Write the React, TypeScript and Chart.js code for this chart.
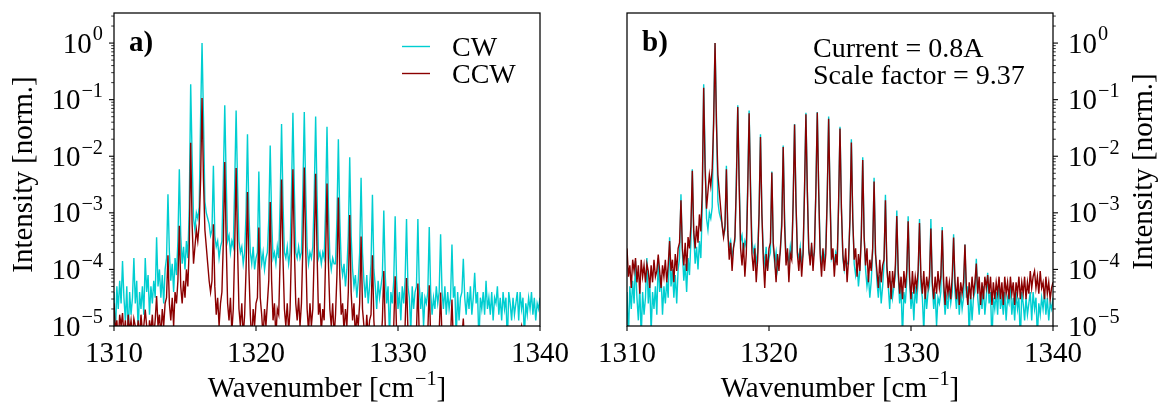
import React, { useEffect, useRef } from 'react';
import { Chart, registerables } from 'chart.js';

Chart.register(...registerables);

// ---------------- DATA ----------------
// Sampled wavenumbers [cm^-1]
const wavenumbers = [
  1310.0, 1310.1, 1310.2, 1310.3, 1310.4, 1310.5, 1310.6, 1310.7,
  1310.8, 1310.9, 1311.0, 1311.1, 1311.2, 1311.3, 1311.4, 1311.5,
  1311.6, 1311.7, 1311.8, 1311.9, 1312.0, 1312.1, 1312.2, 1312.3,
  1312.4, 1312.5, 1312.6, 1312.7, 1312.8, 1312.9, 1313.0, 1313.1,
  1313.2, 1313.3, 1313.4, 1313.5, 1313.6, 1313.7, 1313.8, 1313.9,
  1314.0, 1314.1, 1314.2, 1314.3, 1314.4, 1314.5, 1314.6, 1314.7,
  1314.8, 1314.9, 1315.0, 1315.1, 1315.2, 1315.3, 1315.4, 1315.5,
  1315.6, 1315.7, 1315.8, 1315.9, 1316.0, 1316.1, 1316.2, 1316.3,
  1316.4, 1316.5, 1316.6, 1316.7, 1316.8, 1316.9, 1317.0, 1317.1,
  1317.2, 1317.3, 1317.4, 1317.5, 1317.6, 1317.7, 1317.8, 1317.9,
  1318.0, 1318.1, 1318.2, 1318.3, 1318.4, 1318.5, 1318.6, 1318.7,
  1318.8, 1318.9, 1319.0, 1319.1, 1319.2, 1319.3, 1319.4, 1319.5,
  1319.6, 1319.7, 1319.8, 1319.9, 1320.0, 1320.1, 1320.2, 1320.3,
  1320.4, 1320.5, 1320.6, 1320.7, 1320.8, 1320.9, 1321.0, 1321.1,
  1321.2, 1321.3, 1321.4, 1321.5, 1321.6, 1321.7, 1321.8, 1321.9,
  1322.0, 1322.1, 1322.2, 1322.3, 1322.4, 1322.5, 1322.6, 1322.7,
  1322.8, 1322.9, 1323.0, 1323.1, 1323.2, 1323.3, 1323.4, 1323.5,
  1323.6, 1323.7, 1323.8, 1323.9, 1324.0, 1324.1, 1324.2, 1324.3,
  1324.4, 1324.5, 1324.6, 1324.7, 1324.8, 1324.9, 1325.0, 1325.1,
  1325.2, 1325.3, 1325.4, 1325.5, 1325.6, 1325.7, 1325.8, 1325.9,
  1326.0, 1326.1, 1326.2, 1326.3, 1326.4, 1326.5, 1326.6, 1326.7,
  1326.8, 1326.9, 1327.0, 1327.1, 1327.2, 1327.3, 1327.4, 1327.5,
  1327.6, 1327.7, 1327.8, 1327.9, 1328.0, 1328.1, 1328.2, 1328.3,
  1328.4, 1328.5, 1328.6, 1328.7, 1328.8, 1328.9, 1329.0, 1329.1,
  1329.2, 1329.3, 1329.4, 1329.5, 1329.6, 1329.7, 1329.8, 1329.9,
  1330.0, 1330.1, 1330.2, 1330.3, 1330.4, 1330.5, 1330.6, 1330.7,
  1330.8, 1330.9, 1331.0, 1331.1, 1331.2, 1331.3, 1331.4, 1331.5,
  1331.6, 1331.7, 1331.8, 1331.9, 1332.0, 1332.1, 1332.2, 1332.3,
  1332.4, 1332.5, 1332.6, 1332.7, 1332.8, 1332.9, 1333.0, 1333.1,
  1333.2, 1333.3, 1333.4, 1333.5, 1333.6, 1333.7, 1333.8, 1333.9,
  1334.0, 1334.1, 1334.2, 1334.3, 1334.4, 1334.5, 1334.6, 1334.7,
  1334.8, 1334.9, 1335.0, 1335.1, 1335.2, 1335.3, 1335.4, 1335.5,
  1335.6, 1335.7, 1335.8, 1335.9, 1336.0, 1336.1, 1336.2, 1336.3,
  1336.4, 1336.5, 1336.6, 1336.7, 1336.8, 1336.9, 1337.0, 1337.1,
  1337.2, 1337.3, 1337.4, 1337.5, 1337.6, 1337.7, 1337.8, 1337.9,
  1338.0, 1338.1, 1338.2, 1338.3, 1338.4, 1338.5, 1338.6, 1338.7,
  1338.8, 1338.9, 1339.0, 1339.1, 1339.2, 1339.3, 1339.4, 1339.5,
  1339.6, 1339.7, 1339.8, 1339.9, 1340.0,
];

// CW intensity, log10 of normalized intensity
const cwLog10 = [
  -4.4, -5.2, -4.3, -4.7, -4.2, -4.6, -3.85, -4.5,
  -4.9, -4.3, -5.2, -4.4, -4.8, -4.5, -3.8, -4.6,
  -4.2, -5.1, -4.4, -4.7, -4.3, -4.8, -3.8, -4.4,
  -4.1, -4.8, -4.3, -4.6, -4.2, -4.5, -3.43, -4.3,
  -4.0, -4.5, -4.1, -4.6, -4.0, -3.8, -2.67, -3.7,
  -4.2, -3.9, -4.4, -3.8, -4.1, -3.5, -2.23, -3.4,
  -3.9, -3.6, -4.0, -3.5, -3.8, -2.9, -0.73, -2.0,
  -3.1, -3.3, -3.0, -3.1, -2.9, -1.3, 0.0, -1.3,
  -2.8, -3.0, -3.1, -3.2, -3.4, -3.3, -2.17, -3.4,
  -3.6, -3.5, -3.8, -3.6, -3.5, -2.4, -1.10, -2.4,
  -3.5, -3.4, -3.7, -3.5, -3.6, -2.5, -1.19, -2.5,
  -3.5, -3.7, -3.6, -3.9, -3.7, -3.0, -1.61, -3.0,
  -3.7, -3.9, -3.6, -4.0, -3.8, -3.7, -2.27, -3.6,
  -3.9, -3.7, -4.0, -3.8, -3.7, -3.1, -1.81, -3.1,
  -3.8, -3.7, -3.9, -3.6, -3.8, -2.8, -1.43, -2.8,
  -3.7, -3.8, -3.6, -3.9, -3.7, -2.6, -1.23, -2.6,
  -3.7, -3.8, -3.6, -3.8, -3.7, -2.6, -1.22, -2.6,
  -3.6, -3.9, -3.7, -3.8, -3.6, -2.7, -1.30, -2.7,
  -3.8, -3.7, -3.9, -3.7, -3.8, -2.9, -1.48, -2.9,
  -3.8, -4.0, -3.8, -3.9, -3.9, -3.1, -1.70, -3.1,
  -3.9, -4.1, -3.9, -4.3, -4.0, -3.4, -2.02, -3.4,
  -4.0, -4.3, -4.1, -4.5, -4.2, -3.7, -2.38, -3.7,
  -4.2, -4.5, -4.1, -4.6, -4.3, -3.9, -2.68, -4.0,
  -4.3, -4.7, -4.2, -4.5, -4.3, -4.1, -2.96, -4.1,
  -4.6, -4.3, -5.2, -4.4, -4.6, -4.2, -3.06, -4.2,
  -4.7, -4.4, -4.9, -4.3, -4.6, -4.2, -3.11, -4.3,
  -4.5, -5.1, -4.3, -4.7, -4.4, -4.3, -3.11, -4.3,
  -4.7, -4.4, -5.0, -4.5, -4.6, -4.4, -3.25, -4.4,
  -4.8, -4.5, -4.7, -4.3, -4.6, -4.4, -3.38, -4.4,
  -4.7, -4.3, -4.8, -4.4, -4.7, -4.5, -3.56, -4.5,
  -4.3, -5.2, -4.4, -4.9, -4.5, -4.4, -3.81, -4.5,
  -4.8, -4.4, -4.7, -4.3, -4.8, -4.5, -4.06, -4.6,
  -4.4, -5.3, -4.5, -4.7, -4.4, -4.8, -4.2, -4.7,
  -4.5, -4.8, -4.4, -4.9, -4.5, -4.6, -4.3, -4.8,
  -4.5, -4.9, -4.4, -4.7, -4.5, -5.3, -4.4, -4.6,
  -4.9, -4.5, -4.8, -4.6, -4.4, -4.9, -4.4, -4.7,
  -4.5, -5.2, -4.6, -4.8, -4.5, -4.7, -4.4, -4.8,
  -4.5, -4.9, -4.6, -4.7, -4.5,
];

// CCW intensity (unscaled, as in panel a), log10 of normalized intensity
const ccwLog10 = [
  -4.6, -5.1, -4.9, -5.3, -4.8, -5.0, -4.77, -5.2,
  -4.9, -5.4, -4.8, -5.1, -4.9, -5.2, -4.87, -5.0,
  -5.3, -4.9, -5.2, -4.8, -5.1, -5.0, -4.71, -5.0,
  -5.3, -4.9, -5.1, -4.8, -5.2, -4.9, -4.47, -5.0,
  -4.8, -5.2, -4.7, -5.0, -4.6, -4.5, -3.75, -4.6,
  -4.9, -4.5, -5.0, -4.4, -4.6, -4.2, -3.23, -4.3,
  -4.6, -4.2, -4.5, -4.0, -4.3, -3.6, -1.76, -3.2,
  -3.9, -3.6, -3.3, -3.5, -3.2, -2.4, -0.97, -2.4,
  -3.3, -3.6, -3.9, -4.2, -4.4, -4.2, -3.20, -4.3,
  -4.8, -4.5, -5.0, -4.6, -4.4, -3.5, -2.10, -3.5,
  -4.6, -4.9, -4.5, -5.1, -4.7, -3.6, -2.21, -3.6,
  -4.7, -5.0, -4.6, -5.2, -4.8, -4.0, -2.63, -4.0,
  -4.8, -5.3, -4.7, -5.0, -4.6, -4.5, -3.26, -4.5,
  -4.8, -5.2, -4.7, -5.0, -4.6, -4.2, -2.81, -4.2,
  -4.9, -4.6, -5.2, -4.7, -4.8, -3.8, -2.41, -3.8,
  -4.7, -5.0, -4.6, -5.1, -4.7, -3.6, -2.23, -3.6,
  -4.6, -4.9, -4.5, -5.0, -4.6, -3.6, -2.20, -3.6,
  -4.7, -5.1, -4.6, -5.0, -4.7, -3.7, -2.31, -3.7,
  -4.8, -4.6, -5.1, -4.7, -4.9, -3.8, -2.48, -3.9,
  -4.7, -5.0, -4.6, -5.2, -4.8, -4.1, -2.73, -4.1,
  -4.8, -4.6, -5.1, -4.7, -5.0, -4.4, -3.04, -4.4,
  -4.9, -4.6, -5.2, -4.8, -5.0, -4.6, -3.42, -4.7,
  -5.0, -5.3, -4.8, -5.2, -4.9, -4.8, -3.75, -4.9,
  -5.3, -5.0, -5.5, -5.0, -5.3, -4.9, -4.03, -5.0,
  -5.4, -5.1, -5.5, -5.0, -5.3, -5.0, -4.12, -5.1,
  -5.5, -5.0, -5.4, -5.1, -5.3, -5.0, -4.15, -5.1,
  -5.4, -5.0, -5.5, -5.1, -5.3, -5.1, -4.25, -5.2,
  -5.5, -5.1, -5.4, -5.0, -5.3, -5.1, -4.28, -5.2,
  -5.6, -5.1, -5.4, -5.2, -5.5, -5.1, -4.41, -5.2,
  -5.5, -5.1, -5.6, -5.2, -5.4, -5.2, -4.53, -5.3,
  -5.6, -5.2, -5.5, -5.1, -5.4, -5.2, -4.87, -5.4,
  -5.1, -5.6, -5.2, -5.5, -5.1, -5.3, -5.07, -5.4,
  -5.1, -5.6, -5.2, -5.5, -5.2, -5.4, -5.1, -5.5,
  -5.2, -5.6, -5.1, -5.4, -5.2, -5.5, -5.1, -5.4,
  -5.2, -5.6, -5.2, -5.4, -5.1, -5.5, -5.2, -5.4,
  -5.1, -5.5, -5.2, -5.4, -5.0, -5.3, -5.1, -5.0,
  -5.3, -5.1, -5.4, -5.0, -5.3, -5.2, -5.5, -5.1,
  -5.4, -5.2, -5.5, -5.3, -5.2,
];

const SCALE_FACTOR = 9.37;
const CURRENT_A = 0.8;
const seriesLabels = ['CW', 'CCW'];
const xTickValues = [1310, 1320, 1330, 1340];
const yDecadeExponents = [-5, -4, -3, -2, -1, 0];

const X_MIN = 1310;
const X_MAX = 1340;
const Y_MIN = 1e-5;
const Y_MAX = 3.4;

// ---------------- STYLE ----------------
const CYAN = '#00CED1';
const DARKRED = '#8B0000';
const FONT_FAMILY = '"Liberation Serif", "Times New Roman", serif';
const FS = 29;
const LINE_W = 1.4;

type Part = { t: string; sup?: boolean };

function setFont(ctx: CanvasRenderingContext2D, size: number, bold = false) {
  ctx.font = `${bold ? 'bold ' : ''}${size}px ${FONT_FAMILY}`;
}

function partsWidth(ctx: CanvasRenderingContext2D, parts: Part[], size: number) {
  let w = 0;
  for (const p of parts) {
    setFont(ctx, p.sup ? size * 0.7 : size);
    w += ctx.measureText(p.t).width + (p.sup ? 1 : 0);
  }
  return w;
}

function drawParts(
  ctx: CanvasRenderingContext2D,
  parts: Part[],
  x: number,
  y: number,
  align: 'left' | 'right' | 'center',
  size: number,
) {
  const total = partsWidth(ctx, parts, size);
  let cx = align === 'right' ? x - total : align === 'center' ? x - total / 2 : x;
  ctx.textAlign = 'left';
  ctx.textBaseline = 'alphabetic';
  for (const p of parts) {
    if (p.sup) {
      setFont(ctx, size * 0.7);
      ctx.fillText(p.t, cx + 1, y - size * 0.42);
      cx += ctx.measureText(p.t).width + 1;
    } else {
      setFont(ctx, size);
      ctx.fillText(p.t, cx, y);
      cx += ctx.measureText(p.t).width;
    }
  }
}

function expLabel(e: number): Part[] {
  return [{ t: '10' }, { t: e < 0 ? `\u2212${-e}` : `${e}`, sup: true }];
}

function makeDecorPlugin(panel: 'a' | 'b', canvasLeft: number) {
  return {
    id: 'decor' + panel,
    afterDraw(chart: any) {
      const ctx: CanvasRenderingContext2D = chart.ctx;
      const { left, right, top, bottom } = chart.chartArea;
      const xs = chart.scales.x;
      const ys = chart.scales.y;
      ctx.save();
      ctx.fillStyle = '#000';
      ctx.strokeStyle = '#000';

      // frame
      ctx.lineWidth = 1.25;
      ctx.strokeRect(left, top, right - left, bottom - top);

      // x ticks and labels
      ctx.lineWidth = 1.1;
      for (const v of xTickValues) {
        const px = xs.getPixelForValue(v);
        ctx.beginPath();
        ctx.moveTo(px, bottom);
        ctx.lineTo(px, bottom + 5);
        ctx.stroke();
        drawParts(ctx, [{ t: String(v) }], px, bottom + 36, 'center', FS);
      }
      drawParts(
        ctx,
        [{ t: 'Wavenumber [cm' }, { t: '\u22121', sup: true }, { t: ']' }],
        (left + right) / 2,
        397,
        'center',
        FS,
      );

      // y ticks (log, major + minor) and labels
      const side = panel === 'a' ? left : right;
      const dir = panel === 'a' ? -1 : 1;
      for (const e of yDecadeExponents) {
        for (let m = 1; m <= 9; m++) {
          const v = m * Math.pow(10, e);
          if (v > Y_MAX) break;
          const py = ys.getPixelForValue(v);
          const len = m === 1 ? 5 : 2.8;
          ctx.lineWidth = m === 1 ? 1.1 : 0.8;
          ctx.beginPath();
          ctx.moveTo(side, py);
          ctx.lineTo(side + dir * len, py);
          ctx.stroke();
        }
        const py = ys.getPixelForValue(Math.pow(10, e));
        if (panel === 'a') {
          drawParts(ctx, expLabel(e), left - 11, py + 9.5, 'right', FS);
        } else {
          drawParts(ctx, expLabel(e), right + 15, py + 9.5, 'left', FS);
        }
      }

      // y title (reads bottom to top on both panels)
      const titleX = panel === 'a' ? 32 : 1152 - canvasLeft;
      const titleY = (top + bottom) / 2 + (panel === 'a' ? 5 : 2);
      ctx.save();
      ctx.translate(titleX, titleY);
      ctx.rotate(-Math.PI / 2);
      setFont(ctx, FS);
      ctx.textAlign = 'center';
      ctx.textBaseline = 'alphabetic';
      ctx.fillText('Intensity [norm.]', 0, 0);
      ctx.restore();

      // panel letter
      setFont(ctx, FS, true);
      ctx.textAlign = 'left';
      ctx.textBaseline = 'alphabetic';
      ctx.fillText(panel + ')', left + 15, 51);

      if (panel === 'a') {
        // legend
        const items = [
          { label: seriesLabels[0], color: CYAN, y: 46.5, ty: 56 },
          { label: seriesLabels[1], color: DARKRED, y: 73.5, ty: 83 },
        ];
        for (const it of items) {
          ctx.strokeStyle = it.color;
          ctx.lineWidth = LINE_W;
          ctx.beginPath();
          ctx.moveTo(402 - canvasLeft, it.y);
          ctx.lineTo(430 - canvasLeft, it.y);
          ctx.stroke();
          setFont(ctx, 28);
          ctx.fillStyle = '#000';
          ctx.fillText(it.label, 452 - canvasLeft, it.ty);
        }
      } else {
        setFont(ctx, 28);
        ctx.fillText(`Current = ${CURRENT_A}A`, 813 - canvasLeft, 56.5);
        ctx.fillText(`Scale factor = ${SCALE_FACTOR}`, 813 - canvasLeft, 84);
      }
      ctx.restore();
    },
  };
}

function buildConfig(panel: 'a' | 'b', canvasLeft: number, padding: any): any {
  const ccwFactor = panel === 'b' ? SCALE_FACTOR : 1;
  const cwData = wavenumbers.map((x, i) => ({ x, y: Math.pow(10, cwLog10[i]) }));
  const ccwData = wavenumbers.map((x, i) => ({ x, y: Math.pow(10, ccwLog10[i]) * ccwFactor }));
  return {
    type: 'line',
    data: {
      datasets: [
        {
          label: seriesLabels[1],
          data: ccwData,
          borderColor: DARKRED,
          borderWidth: LINE_W,
          pointRadius: 0,
          tension: 0,
          fill: false,
          order: 0,
        },
        {
          label: seriesLabels[0],
          data: cwData,
          borderColor: CYAN,
          borderWidth: LINE_W,
          pointRadius: 0,
          tension: 0,
          fill: false,
          order: 1,
        },
      ],
    },
    options: {
      animation: false,
      responsive: false,
      maintainAspectRatio: false,
      events: [],
      layout: { padding },
      plugins: {
        legend: { display: false },
        tooltip: { enabled: false },
        title: { display: false },
      },
      scales: {
        x: { type: 'linear', min: X_MIN, max: X_MAX, display: false },
        y: { type: 'logarithmic', min: Y_MIN, max: Y_MAX, display: false },
      },
    },
    plugins: [makeDecorPlugin(panel, canvasLeft)],
  };
}

function Panel(props: { panel: 'a' | 'b'; left: number; width: number; padding: any }) {
  const ref = useRef<HTMLCanvasElement>(null);
  useEffect(() => {
    if (!ref.current) return;
    const chart = new Chart(ref.current, buildConfig(props.panel, props.left, props.padding));
    return () => chart.destroy();
  }, []);
  return (
    <canvas
      ref={ref}
      width={props.width}
      height={403}
      style={{ position: 'absolute', left: props.left, top: 0, width: props.width, height: 403 }}
    />
  );
}

export default function App() {
  return (
    <div
      style={{
        position: 'absolute',
        left: 0,
        top: 0,
        width: 1159,
        height: 403,
        background: '#fff',
        overflow: 'hidden',
      }}
    >
      <Panel panel="a" left={0} width={580} padding={{ left: 114, right: 40, top: 13, bottom: 77 }} />
      <Panel panel="b" left={580} width={579} padding={{ left: 47, right: 106, top: 13, bottom: 77 }} />
    </div>
  );
}
